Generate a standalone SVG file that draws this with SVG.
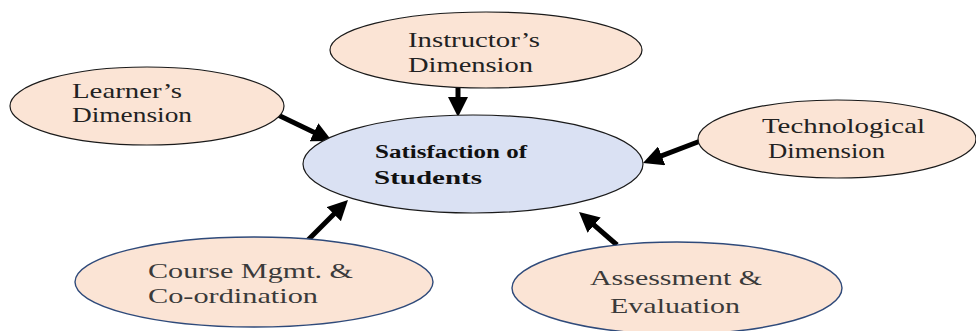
<svg xmlns="http://www.w3.org/2000/svg" width="976" height="331" viewBox="0 0 976 331" font-family="'Liberation Serif', 'DejaVu Serif', serif">
  <style>
    .factor { fill: #fbe4d5; stroke: #1a1a1a; stroke-width: 1.2; }
    .factor-b { fill: #fbe4d5; stroke: #2f4a7a; stroke-width: 1.4; }
    .core { fill: #dae1f3; stroke: #1a1a1a; stroke-width: 1.2; }
    .lbl { font-size: 21px; fill: #222; }
    .lbl-b { font-size: 22px; fill: #3a3a3a; }
    .core-lbl { font-size: 18px; font-weight: bold; fill: #111; }
    .link { stroke: #000; stroke-width: 5; fill: none; marker-end: url(#head); }
  </style>
  <defs>
    <marker id="head" markerUnits="userSpaceOnUse" markerWidth="20" markerHeight="20" refX="8" refY="10" orient="auto">
      <path d="M0,0 L20,10 L0,20 Z" fill="#000"/>
    </marker>
  </defs>

  <rect width="976" height="331" fill="#fff"/>

  <g id="connectors">
    <line class="link" x1="458" y1="88" x2="458" y2="105"/>
    <line class="link" x1="278" y1="115" x2="321.2" y2="135.8"/>
    <line class="link" x1="703" y1="140" x2="654.2" y2="158.7"/>
    <line class="link" x1="308" y1="240" x2="339.5" y2="208.5"/>
    <line class="link" x1="617" y1="245" x2="588.1" y2="219.9"/>
  </g>

  <g id="satisfaction">
    <ellipse class="core" cx="473" cy="164" rx="170" ry="49"/>
    <text class="core-lbl" x="375" y="158" textLength="152" lengthAdjust="spacingAndGlyphs">Satisfaction of</text>
    <text class="core-lbl" x="374" y="184" textLength="108" lengthAdjust="spacingAndGlyphs">Students</text>
  </g>

  <g id="instructor">
    <ellipse class="factor" cx="486" cy="50" rx="156" ry="38"/>
    <text class="lbl" x="408" y="47" textLength="132" lengthAdjust="spacingAndGlyphs">Instructor’s</text>
    <text class="lbl" x="408" y="72" textLength="125" lengthAdjust="spacingAndGlyphs">Dimension</text>
  </g>

  <g id="learner">
    <ellipse class="factor" cx="147" cy="106" rx="137" ry="39"/>
    <text class="lbl" x="72" y="98" textLength="110" lengthAdjust="spacingAndGlyphs">Learner’s</text>
    <text class="lbl" x="72" y="122" textLength="120" lengthAdjust="spacingAndGlyphs">Dimension</text>
  </g>

  <g id="technological">
    <ellipse class="factor" cx="837" cy="139" rx="139" ry="39"/>
    <text class="lbl" x="762" y="133" textLength="163" lengthAdjust="spacingAndGlyphs">Technological</text>
    <text class="lbl" x="768" y="158" textLength="117" lengthAdjust="spacingAndGlyphs">Dimension</text>
  </g>

  <g id="course">
    <ellipse class="factor-b" cx="254" cy="282" rx="179" ry="45"/>
    <text class="lbl-b" x="148" y="278" textLength="205" lengthAdjust="spacingAndGlyphs">Course Mgmt. &amp;</text>
    <text class="lbl-b" x="148" y="303" textLength="170" lengthAdjust="spacingAndGlyphs">Co-ordination</text>
  </g>

  <g id="assessment">
    <ellipse class="factor-b" cx="677" cy="288" rx="165" ry="46"/>
    <text class="lbl-b" x="590" y="285" textLength="172" lengthAdjust="spacingAndGlyphs">Assessment &amp;</text>
    <text class="lbl-b" x="610" y="313" textLength="130" lengthAdjust="spacingAndGlyphs">Evaluation</text>
  </g>
</svg>
